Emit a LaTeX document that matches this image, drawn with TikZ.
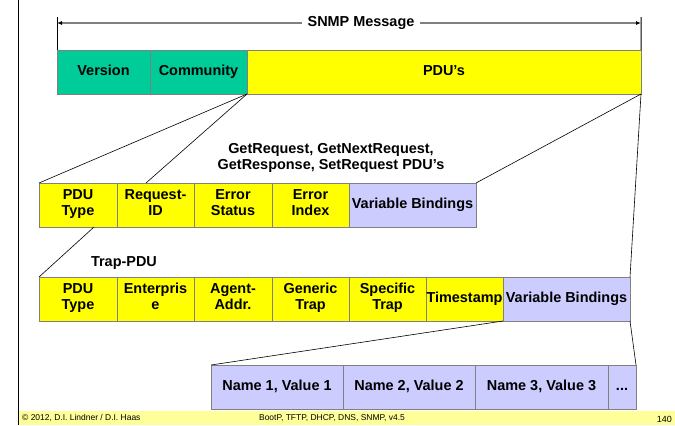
\documentclass[tikz,border=0pt]{standalone}
\usepackage{fontspec}
\setmainfont{Liberation Sans}
\usetikzlibrary{arrows.meta}
\definecolor{msggreen}{RGB}{0,204,153}
\definecolor{pduyellow}{RGB}{255,255,0}
\definecolor{bindblue}{RGB}{204,204,255}
\definecolor{footyellow}{RGB}{255,255,153}
\definecolor{cellgray}{RGB}{128,128,128}

\begin{document}
\begin{tikzpicture}[x=1bp,y=-1bp,
    >={Latex[black,length=5bp,width=4bp]},
    cell/.style={draw=cellgray,line width=0.8bp,anchor=north west,
        inner sep=0pt,outer sep=0pt,minimum height=44bp,align=center,
        font=\fontsize{14.5}{16.5}\selectfont\bfseries,
        execute at begin node=\strut,execute at end node=\strut},
    lbl/.style={inner sep=1pt,align=center,
        font=\fontsize{14.5}{16.5}\selectfont\bfseries},
    link/.style={black,line width=0.6bp}]
    \useasboundingbox (0,0) rectangle (675,425);

    % footer
    \fill[footyellow] (18,411) rectangle (675,425);
    \draw[line width=1bp] (18,0) -- (18,425);
    \node[anchor=west,inner sep=0pt,font=\fontsize{8.5}{9}\selectfont] (copy)
        at (22,418) {\textcopyright{} 2012, D.I. Lindner / D.I. Haas};
    \node[inner sep=0pt,font=\fontsize{8.5}{9}\selectfont] (topic)
        at (332,418) {BootP, TFTP, DHCP, DNS, SNMP, v4.5};
    \node[anchor=east,inner sep=0pt,font=\fontsize{9}{10}\selectfont] (page)
        at (672,419) {140};

    % SNMP message
    \node[cell,fill=msggreen,minimum width=93bp] (ver) at (57,50) {Version};
    \node[cell,fill=msggreen,minimum width=97bp] (comm) at (150,50) {Community};
    \node[cell,fill=pduyellow,minimum width=394bp] (pdus) at (247,50) {PDU's};

    \coordinate (msgl) at (57,17);
    \coordinate (msgr) at (641,17);
    \coordinate (arrl) at (57,23);
    \coordinate (arrr) at (641,23);
    \draw[line width=1bp] (msgl) -- (ver.north west);
    \draw[line width=1bp] (msgr) -- (pdus.north east);
    \draw[cellgray,line width=1.2bp,<->] (arrl) -- (arrr);
    \node[lbl,fill=white,inner xsep=6pt] (msg) at (361,23) {SNMP Message};

    % GetRequest ... PDU's
    \node[lbl] (getlbl) at (331,158) {GetRequest, GetNextRequest,\\GetResponse, SetRequest PDU's};
    \node[cell,fill=pduyellow,minimum width=78bp] (type) at (39,183) {PDU\\Type};
    \node[cell,fill=pduyellow,minimum width=77bp] (reqid) at (117,183) {Request-\\ID};
    \node[cell,fill=pduyellow,minimum width=78bp] (errst) at (194,183) {Error\\Status};
    \node[cell,fill=pduyellow,minimum width=77bp] (errix) at (272,183) {Error\\Index};
    \node[cell,fill=bindblue,minimum width=127bp] (vb) at (349,183) {Variable Bindings};

    % Trap-PDU
    \node[lbl] (traplbl) at (124,263) {Trap-PDU};
    \node[cell,fill=pduyellow,minimum width=78bp] (ttype) at (39,277) {PDU\\Type};
    \node[cell,fill=pduyellow,minimum width=77bp] (enter) at (117,277) {Enterpris\\e};
    \node[cell,fill=pduyellow,minimum width=78bp] (agent) at (194,277) {Agent-\\Addr.};
    \node[cell,fill=pduyellow,minimum width=77bp] (gen) at (272,277) {Generic\\Trap};
    \node[cell,fill=pduyellow,minimum width=77bp] (spec) at (349,277) {Specific\\Trap};
    \node[cell,fill=pduyellow,minimum width=77bp] (tstamp) at (426,277) {Timestamp};
    \node[cell,fill=bindblue,minimum width=127bp] (tvb) at (503,277) {Variable Bindings};

    % variable bindings
    \node[cell,fill=bindblue,minimum width=132bp] (name1) at (211,365) {Name 1, Value 1};
    \node[cell,fill=bindblue,minimum width=132bp] (name2) at (343,365) {Name 2, Value 2};
    \node[cell,fill=bindblue,minimum width=133bp] (name3) at (475,365) {Name 3, Value 3};
    \node[cell,fill=bindblue,minimum width=28bp] (dots) at (608,365) {...};

    % zoom lines
    \coordinate (reqtop) at (146,183);
    \coordinate (typebot) at (94,227);
    \draw[link] (comm.south east) -- (type.north west);
    \draw[link] (comm.south east) -- (reqtop);
    \draw[link] (pdus.south east) -- (vb.north east);
    \draw[link] (pdus.south east) -- (tvb.north east);
    \draw[link] (typebot) -- (ttype.north west);
    \draw[link] (tstamp.south east) -- (name1.north west);
    \draw[link] (tvb.south east) -- (dots.north east);
\end{tikzpicture}
\end{document}
